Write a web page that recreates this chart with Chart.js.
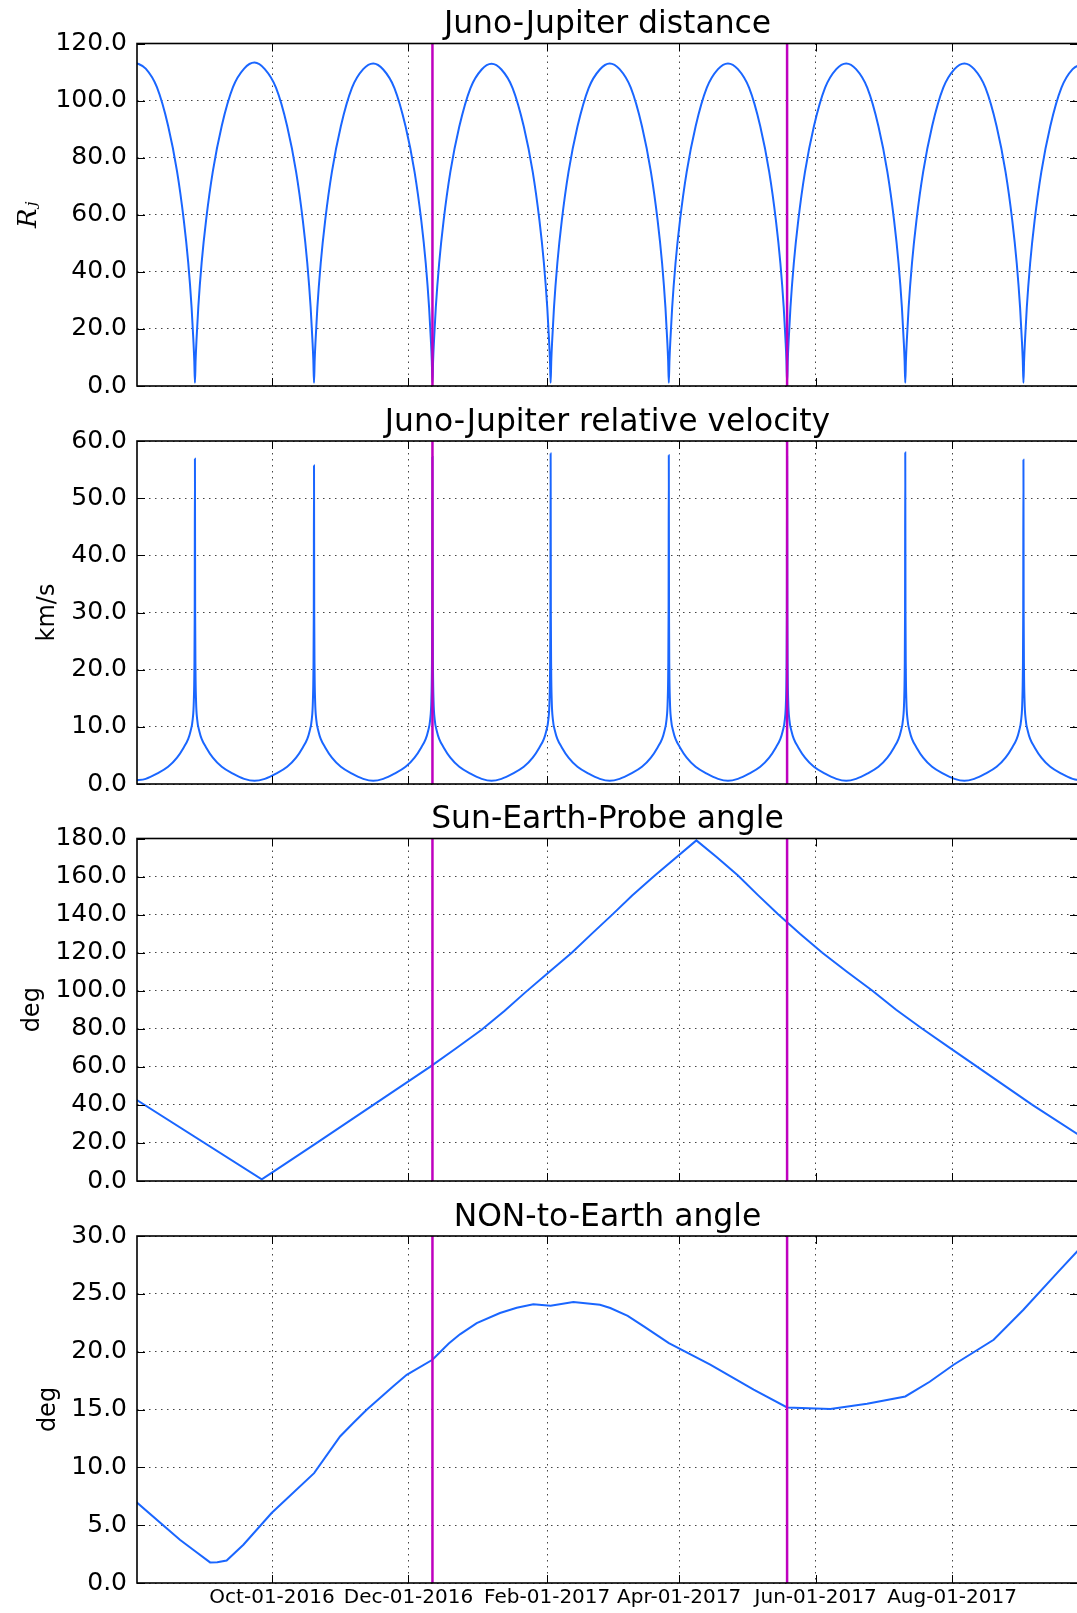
<!DOCTYPE html>
<html>
<head>
<meta charset="utf-8">
<script src="https://cdn.jsdelivr.net/npm/chart.js@4"></script>
<style>
  html, body { margin: 0; padding: 0; background: #fff; overflow: hidden; }
  body { width: 1077px; height: 1613px; position: relative; }
  canvas { position: absolute; left: 0; }
</style>
</head>
<body>
<canvas id="c0" width="1080" height="411" style="top:0px"></canvas>
<canvas id="c1" width="1080" height="411" style="top:398px"></canvas>
<canvas id="c2" width="1080" height="411" style="top:795px"></canvas>
<canvas id="c3" width="1080" height="420" style="top:1193px"></canvas>
<script>
// x values are days since Aug-01-2016 00:00
const xMinDay = 0.63;
const xMaxDay = 421.3;
const xTickDays = [61, 122, 184, 243, 304, 365];
const xTickLabels = ['Oct-01-2016', 'Dec-01-2016', 'Feb-01-2017', 'Apr-01-2017', 'Jun-01-2017', 'Aug-01-2017'];

// perijoves marked with the magenta lines (PJ3, PJ6)
const markerDays = [132.71, 291.25];

// Juno-Jupiter distance (Rj)
const distDays = [
  -0.2,
  4.53, 9.53, 14.53, 18.53, 21.53, 23.53, 25.03, 25.83, 26.23, 26.53, 26.83, 27.23, 28.03, 29.53, 31.53, 34.53, 38.53, 43.53, 48.53,
  53.15,
  57.76, 62.76, 67.76, 71.76, 74.76, 76.76, 78.26, 79.06, 79.46, 79.76, 80.06, 80.46, 81.26, 82.76, 84.76, 87.76, 91.76, 96.76, 101.76,
  106.24,
  110.71, 115.71, 120.71, 124.71, 127.71, 129.71, 131.21, 132.01, 132.41, 132.71, 133.01, 133.41, 134.21, 135.71, 137.71, 140.71, 144.71, 149.71, 154.71,
  159.13,
  163.54, 168.54, 173.54, 177.54, 180.54, 182.54, 184.04, 184.84, 185.24, 185.54, 185.84, 186.24, 187.04, 188.54, 190.54, 193.54, 197.54, 202.54, 207.54,
  211.96,
  216.37, 221.37, 226.37, 230.37, 233.37, 235.37, 236.87, 237.67, 238.07, 238.37, 238.67, 239.07, 239.87, 241.37, 243.37, 246.37, 250.37, 255.37, 260.37,
  264.81,
  269.25, 274.25, 279.25, 283.25, 286.25, 288.25, 289.75, 290.55, 290.95, 291.25, 291.55, 291.95, 292.75, 294.25, 296.25, 299.25, 303.25, 308.25, 313.25,
  317.67,
  322.08, 327.08, 332.08, 336.08, 339.08, 341.08, 342.58, 343.38, 343.78, 344.08, 344.38, 344.78, 345.58, 347.08, 349.08, 352.08, 356.08, 361.08, 366.08,
  370.5,
  374.91, 379.91, 384.91, 388.91, 391.91, 393.91, 395.41, 396.21, 396.61, 396.91, 397.21, 397.61, 398.41, 399.91, 401.91, 404.91, 408.91, 413.91, 418.91,
  423.7
];
const distRj = [
  113.4,
  111.2, 104.7, 91.2, 75.2, 58.2, 43.2, 27.6, 16.1, 9.0, 1.1, 9.0, 16.1, 27.6, 43.2, 58.2, 75.2, 91.2, 104.7, 111.2,
  113.3,
  111.0, 104.5, 91.0, 75.0, 58.0, 43.0, 27.5, 16.0, 9.0, 1.1, 9.0, 16.0, 27.5, 43.0, 58.0, 75.0, 91.0, 104.5, 111.0,
  113.0,
  110.9, 104.4, 90.9, 75.0, 58.0, 43.0, 27.5, 16.0, 9.0, 1.1, 9.0, 16.0, 27.5, 43.0, 58.0, 75.0, 90.9, 104.4, 110.9,
  112.9,
  110.9, 104.4, 90.9, 75.0, 58.0, 43.0, 27.5, 16.0, 9.0, 1.1, 9.0, 16.0, 27.5, 43.0, 58.0, 75.0, 90.9, 104.4, 110.9,
  113.0,
  111.0, 104.5, 91.0, 75.0, 58.0, 43.0, 27.5, 16.0, 9.0, 1.1, 9.0, 16.0, 27.5, 43.0, 58.0, 75.0, 91.0, 104.5, 111.0,
  113.0,
  111.0, 104.5, 91.0, 75.0, 58.0, 43.0, 27.5, 16.0, 9.0, 1.1, 9.0, 16.0, 27.5, 43.0, 58.0, 75.0, 91.0, 104.5, 111.0,
  113.0,
  111.0, 104.5, 91.0, 75.0, 58.0, 43.0, 27.5, 16.0, 9.0, 1.1, 9.0, 16.0, 27.5, 43.0, 58.0, 75.0, 91.0, 104.5, 111.0,
  113.0,
  111.0, 104.5, 91.0, 75.0, 58.0, 43.0, 27.5, 16.0, 9.0, 1.1, 9.0, 16.0, 27.5, 43.0, 58.0, 75.0, 91.0, 104.5, 111.0,
  113.0
];

// Juno-Jupiter relative velocity (km/s)
const velDays = [
  -0.2,
  4.53, 9.53, 14.53, 18.53, 21.53, 23.53, 24.53, 25.53, 26.03, 26.28, 26.43, 26.53, 26.63, 26.78, 27.03, 27.53, 28.53, 29.53, 31.53, 34.53, 38.53, 43.53, 48.53,
  53.15,
  57.76, 62.76, 67.76, 71.76, 74.76, 76.76, 77.76, 78.76, 79.26, 79.51, 79.66, 79.76, 79.86, 80.01, 80.26, 80.76, 81.76, 82.76, 84.76, 87.76, 91.76, 96.76, 101.76,
  106.24,
  110.71, 115.71, 120.71, 124.71, 127.71, 129.71, 130.71, 131.71, 132.21, 132.46, 132.61, 132.71, 132.81, 132.96, 133.21, 133.71, 134.71, 135.71, 137.71, 140.71, 144.71, 149.71, 154.71,
  159.13,
  163.54, 168.54, 173.54, 177.54, 180.54, 182.54, 183.54, 184.54, 185.04, 185.29, 185.44, 185.54, 185.64, 185.79, 186.04, 186.54, 187.54, 188.54, 190.54, 193.54, 197.54, 202.54, 207.54,
  211.96,
  216.37, 221.37, 226.37, 230.37, 233.37, 235.37, 236.37, 237.37, 237.87, 238.12, 238.27, 238.37, 238.47, 238.62, 238.87, 239.37, 240.37, 241.37, 243.37, 246.37, 250.37, 255.37, 260.37,
  264.81,
  269.25, 274.25, 279.25, 283.25, 286.25, 288.25, 289.25, 290.25, 290.75, 291.0, 291.15, 291.25, 291.35, 291.5, 291.75, 292.25, 293.25, 294.25, 296.25, 299.25, 303.25, 308.25, 313.25,
  317.67,
  322.08, 327.08, 332.08, 336.08, 339.08, 341.08, 342.08, 343.08, 343.58, 343.83, 343.98, 344.08, 344.18, 344.33, 344.58, 345.08, 346.08, 347.08, 349.08, 352.08, 356.08, 361.08, 366.08,
  370.5,
  374.91, 379.91, 384.91, 388.91, 391.91, 393.91, 394.91, 395.91, 396.41, 396.66, 396.81, 396.91, 397.01, 397.16, 397.41, 397.91, 398.91, 399.91, 401.91, 404.91, 408.91, 413.91, 418.91,
  423.7
];
const velKms = [
  0.6,
  0.9, 1.8, 3.0, 4.6, 6.4, 7.9, 9.2, 11.3, 14.5, 20.0, 30.0, 56.9, 30.0, 20.0, 14.5, 11.3, 9.2, 7.9, 6.4, 4.6, 3.0, 1.8, 0.9,
  0.55,
  0.9, 1.8, 3.0, 4.6, 6.4, 7.9, 9.2, 11.3, 14.5, 20.0, 30.0, 55.7, 30.0, 20.0, 14.5, 11.3, 9.2, 7.9, 6.4, 4.6, 3.0, 1.8, 0.9,
  0.55,
  0.9, 1.8, 3.0, 4.6, 6.4, 7.9, 9.2, 11.3, 14.5, 20.0, 30.0, 57.2, 30.0, 20.0, 14.5, 11.3, 9.2, 7.9, 6.4, 4.6, 3.0, 1.8, 0.9,
  0.55,
  0.9, 1.8, 3.0, 4.6, 6.4, 7.9, 9.2, 11.3, 14.5, 20.0, 30.0, 57.8, 30.0, 20.0, 14.5, 11.3, 9.2, 7.9, 6.4, 4.6, 3.0, 1.8, 0.9,
  0.55,
  0.9, 1.8, 3.0, 4.6, 6.4, 7.9, 9.2, 11.3, 14.5, 20.0, 30.0, 57.5, 30.0, 20.0, 14.5, 11.3, 9.2, 7.9, 6.4, 4.6, 3.0, 1.8, 0.9,
  0.55,
  0.9, 1.8, 3.0, 4.6, 6.4, 7.9, 9.2, 11.3, 14.5, 20.0, 30.0, 57.2, 30.0, 20.0, 14.5, 11.3, 9.2, 7.9, 6.4, 4.6, 3.0, 1.8, 0.9,
  0.55,
  0.9, 1.8, 3.0, 4.6, 6.4, 7.9, 9.2, 11.3, 14.5, 20.0, 30.0, 58.0, 30.0, 20.0, 14.5, 11.3, 9.2, 7.9, 6.4, 4.6, 3.0, 1.8, 0.9,
  0.55,
  0.9, 1.8, 3.0, 4.6, 6.4, 7.9, 9.2, 11.3, 14.5, 20.0, 30.0, 56.7, 30.0, 20.0, 14.5, 11.3, 9.2, 7.9, 6.4, 4.6, 3.0, 1.8, 0.9,
  0.55
];

// Sun-Earth-Probe angle (deg)
const sepDays = [0, 56.4, 60.8, 81, 106.3, 131.6, 143, 154.7, 165, 174.1, 185, 195, 204, 213.1, 222, 231.6, 250.7,
  260, 269.3, 278, 287, 297, 307, 318, 329.4, 340, 351.7, 364, 376.3, 388.6, 400.9, 421.5];
const sepDeg = [43.0, 0.9, 4.3, 20.0, 40.0, 60.0, 69.5, 79.5, 89.5, 99.0, 110.0, 120.0, 130.0, 140.0, 150.0, 160.0, 179.0,
  170.0, 160.5, 150.5, 140.5, 130.0, 120.0, 110.0, 100.0, 90.0, 80.0, 70.0, 60.0, 50.0, 40.0, 24.3];

// NON-to-Earth angle (deg)
const nonDays = [0, 19.8, 26.5, 33.3, 36.5, 40.7, 48.2, 60.8, 79.8, 91.4, 97.3, 103.3, 115.2, 121.2, 132.7, 140, 145, 152.5, 162.9, 170.4, 177.8,
  185.5, 195.7, 207.6, 212.2, 220, 227.2, 238.4, 256.9, 276.3, 291.25, 310.6, 327, 344.1, 355, 365.7, 383.6, 396.9, 411.9, 422];
const nonDeg = [7.05, 3.74, 2.77, 1.78, 1.8, 1.95, 3.31, 6.05, 9.5, 12.67, 13.83, 14.98, 17.0, 18.0, 19.3, 20.7, 21.5, 22.47, 23.34, 23.8, 24.1,
  23.97, 24.29, 24.05, 23.77, 23.1, 22.18, 20.74, 18.87, 16.71, 15.18, 15.04, 15.5, 16.13, 17.4, 18.87, 21.03, 23.62, 26.79, 28.9];

// y tick values
const distTicks = [0, 20, 40, 60, 80, 100, 120];
const velTicks = [0, 10, 20, 30, 40, 50, 60];
const sepTicks = [0, 20, 40, 60, 80, 100, 120, 140, 160, 180];
const nonTicks = [0, 5, 10, 15, 20, 25, 30];

const FONT = 'DejaVu Sans';
const BLUE = '#1a66ff';
const MAGENTA = '#bf00bf';
Chart.defaults.font.family = FONT;
Chart.defaults.color = '#000';

function pairs(xs, ys) {
  return xs.map((x, i) => ({ x: x, y: ys[i] }));
}

// matplotlib-like frame: full box plus inward ticks on all sides
const frame = {
  id: 'frame',
  afterDatasetsDraw(chart) {
    const { ctx, chartArea: a, scales: { x, y } } = chart;
    ctx.save();
    ctx.strokeStyle = '#000';
    ctx.lineWidth = 1;
    ctx.beginPath();
    x.ticks.forEach(t => {
      const px = Math.round(x.getPixelForValue(t.value)) + 0.5;
      ctx.moveTo(px, a.top); ctx.lineTo(px, a.top + 8);
      ctx.moveTo(px, a.bottom); ctx.lineTo(px, a.bottom - 8);
    });
    y.ticks.forEach(t => {
      const py = Math.round(y.getPixelForValue(t.value)) + 0.5;
      ctx.moveTo(a.left, py); ctx.lineTo(a.left + 8, py);
      ctx.moveTo(a.right, py); ctx.lineTo(a.right - 8, py);
    });
    ctx.stroke();
    ctx.lineWidth = 1.6;
    ctx.strokeRect(a.left, a.top, a.right - a.left, a.bottom - a.top);
    ctx.restore();
  }
};

function makeChart(id, p) {
  const datasets = markerDays.map(d => ({
    data: [{ x: d, y: p.yTicks[0] }, { x: d, y: p.yTicks[p.yTicks.length - 1] }],
    borderColor: MAGENTA, borderWidth: 2.5, pointRadius: 0, tension: 0, order: 1
  }));
  datasets.push({
    data: p.points,
    borderColor: BLUE, borderWidth: 2, pointRadius: 0,
    tension: 0, cubicInterpolationMode: p.smooth ? 'monotone' : 'default',
    order: 2
  });

  return new Chart(document.getElementById(id), {
    type: 'line',
    data: { datasets: datasets },
    options: {
      responsive: false,
      animation: false,
      events: [],
      layout: { padding: { left: 0, right: 2, top: 0, bottom: 0 } },
      plugins: {
        legend: { display: false },
        tooltip: { enabled: false },
        title: {
          display: true, text: p.title, fullSize: false, color: '#000',
          font: { family: FONT, size: 31.4, weight: 'normal', lineHeight: 1 },
          padding: { top: p.offset - 34.1, bottom: 2.7 }
        }
      },
      scales: {
        x: {
          type: 'linear', min: xMinDay, max: xMaxDay,
          afterBuildTicks: s => { s.ticks = xTickDays.map(v => ({ value: v })); },
          afterFit: s => { s.height = p.xHeight; },
          grid: { color: '#444', lineWidth: 1, drawTicks: false },
          border: { display: false, dash: [1.5, 4.5] },
          ticks: {
            display: p.showX, padding: 3, color: '#000', maxRotation: 0, autoSkip: false,
            font: { family: FONT, size: 20 },
            callback: (v, i) => xTickLabels[i]
          }
        },
        y: {
          type: 'linear', min: p.yTicks[0], max: p.yTicks[p.yTicks.length - 1],
          afterBuildTicks: s => { s.ticks = p.yTicks.map(v => ({ value: v })); },
          afterFit: s => { s.width = 137; },
          grid: { color: '#444', lineWidth: 1, drawTicks: false },
          border: { display: false, dash: [1.5, 4.5] },
          ticks: {
            padding: 10, color: '#000', font: { family: FONT, size: 25 },
            callback: v => Number(v).toFixed(1)
          },
          title: {
            display: true, text: p.yLabel, color: '#000', font: p.yLabelFont,
            padding: { top: p.yLabelX - p.yLabelFont.size * 0.6, bottom: 0 }
          }
        }
      }
    },
    plugins: [frame]
  });
}

makeChart('c0', {
  title: 'Juno-Jupiter distance', yLabel: 'Rⱼ',
  yLabelFont: { family: 'DejaVu Serif', style: 'italic', size: 26 }, yLabelX: 29,
  points: pairs(distDays, distRj), smooth: true, yTicks: distTicks,
  offset: 43.5, xHeight: 20.5, showX: false
});
makeChart('c1', {
  title: 'Juno-Jupiter relative velocity', yLabel: 'km/s',
  yLabelFont: { family: FONT, size: 24 }, yLabelX: 48,
  points: pairs(velDays, velKms), smooth: true, yTicks: velTicks,
  offset: 43, xHeight: 21, showX: false
});
makeChart('c2', {
  title: 'Sun-Earth-Probe angle', yLabel: 'deg',
  yLabelFont: { family: FONT, size: 24 }, yLabelX: 33,
  points: pairs(sepDays, sepDeg), smooth: false, yTicks: sepTicks,
  offset: 43.5, xHeight: 20.5, showX: false
});
makeChart('c3', {
  title: 'NON-to-Earth angle', yLabel: 'deg',
  yLabelFont: { family: FONT, size: 24 }, yLabelX: 49,
  points: pairs(nonDays, nonDeg), smooth: false, yTicks: nonTicks,
  offset: 43, xHeight: 30, showX: true
});
</script>
</body>
</html>
